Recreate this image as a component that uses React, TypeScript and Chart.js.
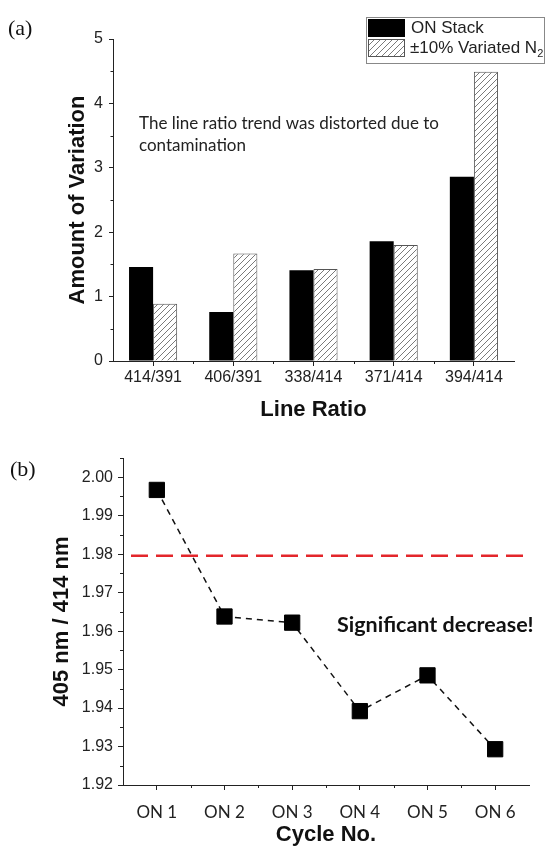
import { useEffect, useRef } from "react";
import { Chart, registerables } from "chart.js";

Chart.register(...registerables);

// ---------- data: panel (a) ----------
const RATIO_LABELS = ["414/391", "406/391", "338/414", "371/414", "394/414"];
const ON_STACK = [1.46, 0.76, 1.41, 1.86, 2.86];
const VARIATED_N2 = [0.89, 1.67, 1.43, 1.8, 4.49];
const BAR_Y_MIN = 0;
const BAR_Y_MAX = 5;
const BAR_Y_STEP = 1;
const LEGEND_LABELS = ["ON Stack", "±10% Variated N", "2"];
const NOTE_A = ["The line ratio trend was distorted due to", "contamination"];

// ---------- data: panel (b) ----------
const CYCLE_LABELS = ["ON 1", "ON 2", "ON 3", "ON 4", "ON 5", "ON 6"];
const RATIO_405_414 = [1.9967, 1.9638, 1.9622, 1.9392, 1.9485, 1.9293];
const THRESHOLD = 1.9796;
const LINE_Y_TICKS = [1.92, 1.93, 1.94, 1.95, 1.96, 1.97, 1.98, 1.99, 2.0];
const LINE_Y_MIN = 1.92;
const LINE_Y_MAX = 2.005;
const NOTE_B = "Significant decrease!";

const SANS = "'Liberation Sans', Arial, sans-serif";
const CAL = "Lato, 'Open Sans', sans-serif";
const SERIF = "'Liberation Serif', 'Times New Roman', serif";
const AXIS = "#222";

function makeHatch(ctx: CanvasRenderingContext2D) {
  const c = document.createElement("canvas");
  c.width = 6;
  c.height = 6;
  const g = c.getContext("2d")!;
  g.fillStyle = "#fff";
  g.fillRect(0, 0, 6, 6);
  g.strokeStyle = "#7a7a7a";
  g.lineWidth = 1;
  g.beginPath();
  g.moveTo(0, 6);
  g.lineTo(6, 0);
  g.moveTo(-3, 3);
  g.lineTo(3, -3);
  g.moveTo(3, 9);
  g.lineTo(9, 3);
  g.stroke();
  return ctx.createPattern(c, "repeat")!;
}

function drawMinorTicks(chart: any, yLen: number, xLen: number) {
  const ctx = chart.ctx as CanvasRenderingContext2D;
  const xs = chart.scales.x;
  const ys = chart.scales.y;
  ctx.save();
  ctx.strokeStyle = AXIS;
  ctx.lineWidth = 1;
  const vals = ys.ticks.map((t: any) => t.value);
  const step = vals.length > 1 ? vals[1] - vals[0] : 1;
  const left = chart.chartArea.left;
  ctx.beginPath();
  for (let i = 0; i < vals.length; i++) {
    const v = vals[i] + step / 2;
    if (v > ys.max + 1e-9) break;
    const py = Math.round(ys.getPixelForValue(v)) + 0.5;
    ctx.moveTo(left - yLen, py);
    ctx.lineTo(left, py);
  }
  const bottom = chart.chartArea.bottom;
  const n = chart.data.labels.length;
  for (let i = 0; i < n - 1; i++) {
    const px = Math.round((xs.getPixelForTick(i) + xs.getPixelForTick(i + 1)) / 2) + 0.5;
    ctx.moveTo(px, bottom);
    ctx.lineTo(px, bottom + xLen);
  }
  ctx.stroke();
  ctx.restore();
}

const panelAPlugin = {
  id: "panelA",
  afterDraw(chart: any) {
    const ctx = chart.ctx as CanvasRenderingContext2D;
    drawMinorTicks(chart, 2.5, 3);
    ctx.save();
    ctx.fillStyle = "#111";
    ctx.font = `22px ${SERIF}`;
    ctx.textBaseline = "middle";
    ctx.textAlign = "left";
    ctx.fillText("(a)", 8, 29);
    ctx.font = `17px ${CAL}`;
    ctx.fillStyle = "#222";
    ctx.fillText(NOTE_A[0], 139, 124);
    ctx.fillText(NOTE_A[1], 139, 146);
    const bx = 366.5, by = 17.5, bw = 178, bh = 46;
    ctx.strokeStyle = "#888";
    ctx.lineWidth = 1;
    ctx.strokeRect(bx, by, bw, bh);
    ctx.fillStyle = "#000";
    ctx.fillRect(368, 19, 37, 18);
    ctx.fillStyle = (chart.data.datasets[1] as any).backgroundColor;
    ctx.fillRect(368, 39, 37, 18);
    ctx.strokeStyle = "#555";
    ctx.strokeRect(368.5, 39.5, 36, 17);
    ctx.fillStyle = "#222";
    ctx.font = `17px ${SANS}`;
    ctx.fillText(LEGEND_LABELS[0], 411, 28);
    ctx.fillText(LEGEND_LABELS[1], 410, 48);
    const w = ctx.measureText(LEGEND_LABELS[1]).width;
    ctx.font = `11px ${SANS}`;
    ctx.fillText(LEGEND_LABELS[2], 410 + w, 54);
    ctx.restore();
  },
};

const panelBPlugin = {
  id: "panelB",
  beforeDatasetsDraw(chart: any) {
    const ctx = chart.ctx as CanvasRenderingContext2D;
    const ys = chart.scales.y;
    const { left, right } = chart.chartArea;
    const py = ys.getPixelForValue(THRESHOLD);
    ctx.save();
    ctx.strokeStyle = "#e3262b";
    ctx.lineWidth = 2.5;
    ctx.setLineDash([17, 8]);
    ctx.lineDashOffset = -8;
    ctx.beginPath();
    ctx.moveTo(left, py);
    ctx.lineTo(right, py);
    ctx.stroke();
    ctx.restore();
  },
  afterDraw(chart: any) {
    const ctx = chart.ctx as CanvasRenderingContext2D;
    drawMinorTicks(chart, 3, 3);
    ctx.save();
    ctx.fillStyle = "#111";
    ctx.font = `22px ${SERIF}`;
    ctx.textBaseline = "middle";
    ctx.textAlign = "left";
    ctx.fillText("(b)", 10, 50);
    ctx.font = `bold 21.5px ${CAL}`;
    ctx.fillStyle = "#111";
    ctx.fillText(NOTE_B, 337, 205);
    ctx.restore();
  },
};

export default function App() {
  const topRef = useRef<HTMLCanvasElement>(null);
  const botRef = useRef<HTMLCanvasElement>(null);

  useEffect(() => {
    document.body.style.margin = "0";
    const topCanvas = topRef.current!;
    const hatch = makeHatch(topCanvas.getContext("2d")!);

    const barChart = new Chart(topCanvas, {
      type: "bar",
      data: {
        labels: RATIO_LABELS,
        datasets: [
          {
            label: "ON Stack",
            data: ON_STACK,
            backgroundColor: "#000",
            borderColor: "#000",
            borderWidth: 0,
          },
          {
            label: "±10% Variated N2",
            data: VARIATED_N2,
            backgroundColor: hatch as any,
            borderColor: "#555",
            borderWidth: 1,
          },
        ],
      },
      options: {
        responsive: false,
        animation: false,
        devicePixelRatio: 1,
        layout: { padding: { left: 0, right: 31, top: 39, bottom: 0 } },
        datasets: { bar: { categoryPercentage: 0.6, barPercentage: 1 } } as any,
        plugins: { legend: { display: false }, tooltip: { enabled: false } },
        scales: {
          x: {
            offset: true,
            grid: {
              offset: false,
              drawOnChartArea: false,
              drawTicks: true,
              tickLength: 5,
              color: AXIS,
            },
            border: { display: true, color: AXIS, width: 1 },
            ticks: { font: { family: SANS, size: 16 }, color: "#222", padding: 2, maxRotation: 0 },
            title: {
              display: true,
              text: "Line Ratio",
              font: { family: SANS, size: 22, weight: "bold", lineHeight: 0.9 },
              color: "#111",
              padding: 0,
            },
            afterFit: (s: any) => {
              s.height = 59;
            },
          } as any,
          y: {
            min: BAR_Y_MIN,
            max: BAR_Y_MAX,
            ticks: { stepSize: BAR_Y_STEP, font: { family: SANS, size: 16 }, color: "#222", padding: 6 },
            grid: { drawOnChartArea: false, drawTicks: true, tickLength: 4, color: AXIS },
            border: { display: true, color: AXIS, width: 1 },
            title: {
              display: true,
              text: "Amount of Variation",
              font: { family: SANS, size: 22, weight: "bold" },
              color: "#111",
              padding: { top: 65, bottom: 0 },
            },
            afterFit: (s: any) => {
              s.width = 113;
            },
          } as any,
        },
      },
      plugins: [panelAPlugin],
    });

    const lineChart = new Chart(botRef.current!, {
      type: "line",
      data: {
        labels: CYCLE_LABELS,
        datasets: [
          {
            label: "405 nm / 414 nm",
            data: RATIO_405_414,
            borderColor: "#111",
            borderWidth: 1.5,
            borderDash: [6, 5],
            pointStyle: "rect",
            pointRadius: 10.8,
            pointBackgroundColor: "#000",
            pointBorderColor: "#000",
            pointBorderWidth: 1,
            tension: 0,
            clip: false as any,
          },
        ],
      },
      options: {
        responsive: false,
        animation: false,
        devicePixelRatio: 1,
        layout: { padding: { left: 0, right: 16, top: 38, bottom: 0 } },
        plugins: { legend: { display: false }, tooltip: { enabled: false } },
        scales: {
          x: {
            type: "category",
            offset: true,
            grid: { offset: false, drawOnChartArea: false, drawTicks: true, tickLength: 5, color: AXIS },
            border: { display: true, color: AXIS, width: 1 },
            ticks: { font: { family: CAL, size: 17 }, color: "#222", padding: 12, maxRotation: 0 },
            title: {
              display: true,
              text: "Cycle No.",
              font: { family: SANS, size: 22, weight: "bold", lineHeight: 1 },
              color: "#111",
              padding: { top: 0, bottom: 1 },
            },
            afterFit: (s: any) => {
              s.height = 62;
            },
          } as any,
          y: {
            min: LINE_Y_MIN,
            max: LINE_Y_MAX,
            afterBuildTicks: (s: any) => {
              s.ticks = LINE_Y_TICKS.map((v) => ({ value: v }));
            },
            ticks: {
              font: { family: SANS, size: 16 },
              color: "#222",
              padding: 5,
              callback: (v: any) => Number(v).toFixed(2),
            },
            grid: { drawOnChartArea: false, drawTicks: true, tickLength: 5, color: AXIS },
            border: { display: true, color: AXIS, width: 1 },
            title: {
              display: true,
              text: "405 nm / 414 nm",
              font: { family: SANS, size: 22, weight: "bold" },
              color: "#111",
              padding: { top: 49, bottom: 0 },
            },
            afterFit: (s: any) => {
              s.width = 123;
            },
          } as any,
        },
      },
      plugins: [panelBPlugin],
    });

    return () => {
      barChart.destroy();
      lineChart.destroy();
    };
  }, []);

  return (
    <div style={{ position: "relative", width: 545, height: 847, background: "#fff" }}>
      <canvas ref={topRef} width={545} height={420} style={{ display: "block" }} />
      <canvas ref={botRef} width={545} height={427} style={{ display: "block" }} />
    </div>
  );
}
